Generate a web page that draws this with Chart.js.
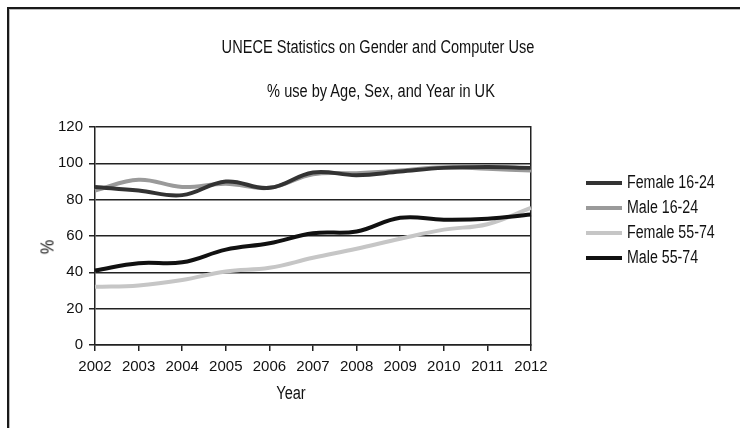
<!DOCTYPE html>
<html>
<head>
<meta charset="utf-8">
<script src="https://cdn.jsdelivr.net/npm/chart.js@4"></script>
<style>
  html, body { margin:0; padding:0; background:#fff; }
  body { width:740px; height:428px; position:relative; overflow:hidden;
         font-family:"Liberation Sans Narrow","Liberation Sans",Arial,sans-serif; color:#111; }
  #frame { position:absolute; left:7px; top:7px; width:800px; height:500px;
           border-top:2px solid #1a1a1a; border-left:2px solid #1a1a1a; box-shadow: inset 1px 1px 0 #bbb; }
  #wrap { position:absolute; left:0; top:0; width:740px; height:428px; }
  .t { position:absolute; white-space:nowrap; font-size:18px; }
  #title { left:378px; top:47px; transform:translate(-50%,-50%) scaleX(0.81); }
  #subtitle { left:381px; top:91px; transform:translate(-50%,-50%) scaleX(0.81); }
  #xtitle { left:291px; top:393px; transform:translate(-50%,-50%) scaleX(0.81); }
  #ytitle { left:48px; top:247px; transform:translate(-50%,-50%) rotate(-90deg) scaleX(0.9); }
  #legend { position:absolute; left:586px; top:170px; }
  .li { height:25px; display:flex; align-items:center; font-size:18px; }
  .sw { width:36px; height:4px; margin-right:5px; flex:none; }
  .li span { display:inline-block; transform:scaleX(0.79); transform-origin:0 50%; }
</style>
</head>
<body>
<div id="frame"></div>
<div id="wrap"><canvas id="c" width="740" height="428"></canvas></div>
<div class="t" id="title">UNECE Statistics on Gender and Computer Use</div>
<div class="t" id="subtitle">% use by Age, Sex, and Year in UK</div>
<div class="t" id="xtitle">Year</div>
<div class="t" id="ytitle">%</div>
<div id="legend"></div>
<script>
const years = ["2002","2003","2004","2005","2006","2007","2008","2009","2010","2011","2012"];
const female1624 = [87, 85, 82.5, 90, 86.5, 95, 93.5, 95.5, 97.5, 98, 97.5];
const male1624   = [85, 91, 87, 88.8, 86.5, 94, 94.6, 96, 97.8, 97, 96];
const female5574 = [32, 32.8, 35.8, 40.5, 42.5, 48, 53, 58.5, 63.5, 66.5, 75.5];
const male5574   = [41, 45, 45.5, 52.5, 56, 61.5, 62.5, 70, 69, 69.5, 71.8];
const yTicks = [0, 20, 40, 60, 80, 100, 120];

const seriesNames = ["Female 16-24","Male 16-24","Female 55-74","Male 55-74"];
const seriesData = [female1624, male1624, female5574, male5574];
const seriesColors = ["#333333","#9a9a9a","#c6c6c6","#111111"];

const FONT = "'Liberation Sans Narrow','Liberation Sans',Arial,sans-serif";

const datasets = seriesNames.map((n,i)=>({
  label:n, data:seriesData[i], borderColor:seriesColors[i], backgroundColor:seriesColors[i],
  borderWidth:4, pointRadius:0, tension:0.4, fill:false
}));
const order = [2,1,3,0];
order.forEach((idx,k)=>{ datasets[idx].order = 10-k; });

new Chart(document.getElementById('c'), {
  type:'line',
  data:{ labels:years, datasets },
  options:{
    responsive:false, animation:false, devicePixelRatio:1,
    layout:{ padding:{ left:30, right:209, top:127, bottom:53 } },
    plugins:{ legend:{display:false}, title:{display:false}, tooltip:{enabled:false} },
    scales:{
      x:{
        type:'category', offset:false,
        grid:{ display:true, drawOnChartArea:false, drawTicks:true, tickLength:6, color:'#222', lineWidth:1.5 },
        border:{ display:true, color:'#222', width:1.5 },
        ticks:{ color:'#111', font:{family:FONT, size:15}, padding:7, maxRotation:0, autoSkip:false },
        afterFit(s){ s.height = 30; }
      },
      y:{
        min:0, max:120,
        afterBuildTicks(s){ s.ticks = yTicks.map(v=>({value:v})); },
        grid:{ color:'#222', lineWidth:1.5, drawTicks:true, tickLength:6 },
        border:{ display:true, color:'#222', width:1.5 },
        ticks:{ color:'#111', font:{family:FONT, size:15}, padding:6 },
        afterFit(s){ s.width = 65; }
      },
      y2:{
        position:'right', min:0, max:120,
        grid:{ drawOnChartArea:false, drawTicks:false },
        border:{ display:true, color:'#222', width:1.5 },
        ticks:{ display:false },
        afterFit(s){ s.width = 0; }
      }
    }
  }
});

const lg = document.getElementById('legend');
seriesNames.forEach((n,i)=>{
  const d = document.createElement('div'); d.className='li';
  const s = document.createElement('div'); s.className='sw'; s.style.background = seriesColors[i];
  const t = document.createElement('span'); t.textContent = n;
  d.appendChild(s); d.appendChild(t); lg.appendChild(d);
});
</script>
</body>
</html>
